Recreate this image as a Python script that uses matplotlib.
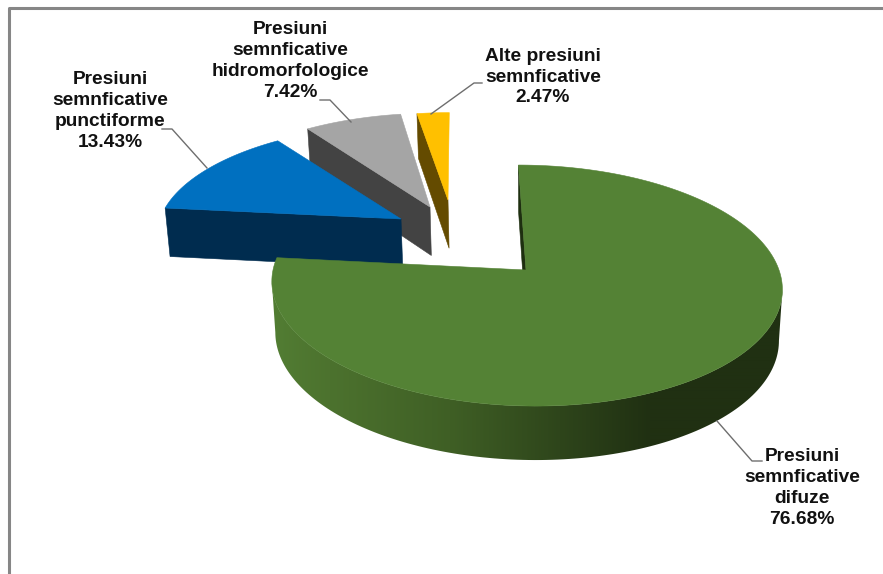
import numpy as np
import matplotlib.pyplot as plt
from matplotlib.patches import Polygon

plt.rcParams["font.family"] = ["Liberation Sans", "DejaVu Sans"]

names = ["Presiuni\nsemnficative\ndifuze", "Presiuni\nsemnficative\npunctiforme",
         "Presiuni\nsemnficative\nhidromorfologice", "Alte presiuni\nsemnficative"]
values = [76.68, 13.43, 7.42, 2.47]

TOP_COLORS = ["#548235", "#0070c0", "#a5a5a5", "#ffc000"]
WALL_COLORS = ["#1e2f10", "#002c4f", "#434343", "#644b00"]

# layout, in image pixels
VX, CY = 460, 270
R, S, K = 253, 118.5, 0.129
APEX = [(526, 270), (401, 219), (430, 207), (448, 200)]
RIM_DX = [0, -2, 0, 0]
RIM_DY = [0, 0, -2, 3]
LABEL_POS = [(802, 488), (110, 111), (290, 61), (543, 77)]
LEADERS = [
    ([762, 752, 717], [461, 461, 421]),
    ([162, 172, 207], [129, 129, 168]),
    ([320, 330, 351], [100, 100, 122]),
    ([482, 474, 431], [83, 83, 114]),
]


def project(u, v):
    w = 1 - K * v
    return VX + R * u / w, CY + S * v / w


def unproject(x, y):
    dy = y - CY
    v = dy / (S + K * dy)
    return (x - VX) * (1 - K * v) / R, v


def depth(v):
    return 50.5 + 3.5 * v


def bottom_x(x):
    return x + 0.0136 * (VX + 68 - x)


def green_shade(x):
    stops = [273, 330, 450, 560, 650, 783]
    r = [0x52, 0x4c, 0x3f, 0x2e, 0x20, 0x20]
    g = [0x7d, 0x72, 0x5f, 0x45, 0x30, 0x30]
    b = [0x33, 0x2e, 0x25, 0x1b, 0x12, 0x12]
    return np.stack([np.interp(x, stops, c) / 255 for c in (r, g, b)], axis=-1)


fig = plt.figure(figsize=(8.83, 5.74), dpi=100)
ax = fig.add_axes([0, 0, 1, 1])
ax.set_xlim(0, 883)
ax.set_ylim(574, 0)
ax.axis("off")

# chart frame, only left and top show in the crop
ax.plot([8.5, 8.5, 883], [574, 8, 8], color="#868686", lw=2.2, solid_capstyle="butt")

fractions = np.array(values) / sum(values)
edges = np.concatenate([[0], np.cumsum(fractions)]) * 2 * np.pi

for i in [3, 2, 1, 0]:
    u0, v0 = unproject(*APEX[i])
    a = np.linspace(edges[i], edges[i + 1], 240)
    u = u0 + np.sin(a)
    v = v0 - np.cos(a)
    x, y = project(u, v)
    x = x + RIM_DX[i]
    y = y + RIM_DY[i]
    xb = bottom_x(x)
    yb = y + depth(v)

    # outer wall, from the widest point on the right round to the left
    if i == 0:
        r0, r1 = np.argmax(x), np.argmin(x)
        b0, b1 = np.argmax(xb), np.argmin(xb)
        wall = list(zip(x[r0:r1 + 1], y[r0:r1 + 1])) + list(zip(xb[b0:b1 + 1][::-1], yb[b0:b1 + 1][::-1]))
        patch = Polygon(wall, closed=True, fc="none", ec="none")
        ax.add_patch(patch)
        xs = np.arange(262, 792)
        img = ax.imshow(green_shade(xs)[np.newaxis, :, :], extent=[262, 792, 480, 240],
                        aspect="auto", interpolation="bilinear")
        img.set_clip_path(patch)

    # cut face on the starting edge
    ax_, ay_ = APEX[i]
    quad = [(ax_, ay_), (x[0], y[0]), (xb[0], yb[0]), (bottom_x(ax_), ay_ + depth(v0))]
    ax.add_patch(Polygon(quad, closed=True, fc=WALL_COLORS[i], ec=WALL_COLORS[i], lw=0.4))

    top = [(ax_, ay_)] + list(zip(x, y))
    ax.add_patch(Polygon(top, closed=True, fc=TOP_COLORS[i], ec=TOP_COLORS[i], lw=0.4))

ax.set_xlim(0, 883)
ax.set_ylim(574, 0)

for xs, ys in LEADERS:
    ax.plot(xs, ys, color="#6e6e6e", lw=1.0)

for name, val, (lx, ly) in zip(names, values, LABEL_POS):
    ax.text(lx, ly, f"{name}\n{val:.2f}%", ha="center", va="center", fontsize=13.8,
            fontweight="bold", color="#111111", linespacing=1.3)

fig.savefig("out.png", dpi=100)
plt.close(fig)
